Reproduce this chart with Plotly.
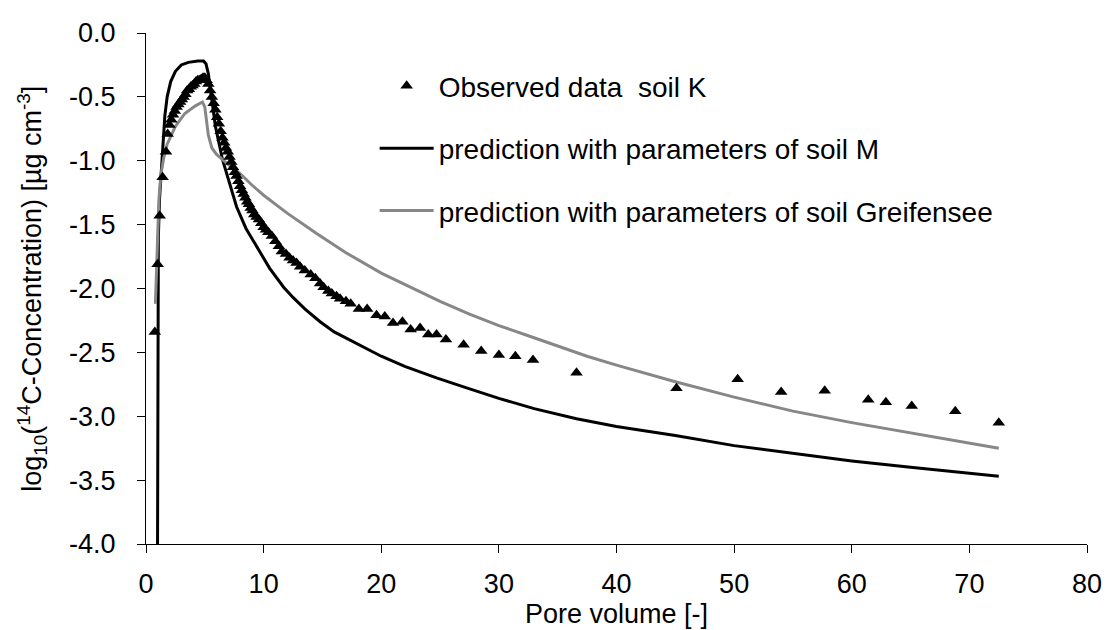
import plotly.graph_objects as go

# Observed data soil K (pore volume, log10 concentration)
obs_x = [0.75, 0.99, 1.16, 1.41, 1.70, 1.84, 2.0, 2.15, 2.3, 2.45, 2.6, 2.75, 2.9, 3.05, 3.2,
         3.35, 3.5, 3.65, 3.8, 3.95, 4.1, 4.25, 4.4, 4.55, 4.7, 4.85, 5.0, 5.15, 5.3, 5.45,
         5.6, 5.75, 5.9, 6.05, 6.2, 6.35, 6.5, 6.65, 6.8, 6.95, 7.1, 7.25, 7.4, 7.55, 7.7,
         7.85, 8.0, 8.15, 8.3, 8.45, 8.6, 8.75, 8.9, 9.05, 9.2, 9.4, 9.6, 9.8, 10.0, 10.2,
         10.4, 10.7, 11.0, 11.3, 11.55, 11.9, 12.2, 12.5, 12.8, 13.1, 13.5, 14.0, 14.4, 14.8,
         15.1, 15.5, 15.8, 16.2, 16.5, 17.0, 17.4, 18.1, 18.8, 19.6, 20.3, 21.0, 21.8, 22.5,
         23.3, 24.0, 24.7, 25.5, 27.0, 28.5, 30.0, 31.4, 32.9, 36.6, 45.1, 50.3, 54.0, 57.7,
         61.4, 62.9, 65.1, 68.8, 72.5]
obs_y = [-2.34, -1.81, -1.43, -1.13, -0.93, -0.79, -0.72, -0.68, -0.64, -0.61, -0.58, -0.56, -0.54, -0.52, -0.50,
         -0.48, -0.45, -0.44, -0.42, -0.41, -0.40, -0.38, -0.37, -0.37, -0.36, -0.35, -0.35, -0.37, -0.40, -0.45,
         -0.50, -0.55, -0.60, -0.66, -0.71, -0.77, -0.82, -0.86, -0.90, -0.93, -0.97, -1.01, -1.05, -1.09, -1.12,
         -1.16, -1.20, -1.23, -1.26, -1.29, -1.32, -1.34, -1.37, -1.39, -1.42, -1.44, -1.46, -1.49, -1.52, -1.54,
         -1.56, -1.59, -1.63, -1.67, -1.71, -1.73, -1.76, -1.78, -1.80, -1.83, -1.86, -1.89, -1.92, -1.96,
         -1.99, -2.02, -2.04, -2.06, -2.08, -2.10, -2.12, -2.16, -2.16, -2.21, -2.22, -2.27, -2.26, -2.32,
         -2.31, -2.36, -2.36, -2.40, -2.44, -2.49, -2.52, -2.53, -2.56, -2.66, -2.78, -2.71, -2.81, -2.80,
         -2.87, -2.89, -2.92, -2.96, -3.05]

# Prediction with parameters of soil M
m_x = [0.98, 0.99, 1.0, 1.05, 1.15, 1.3, 1.45, 1.6, 1.8, 2.1, 2.5, 3.0, 3.6, 4.4, 4.9, 5.1, 5.3,
       5.5, 5.9, 6.5, 7.2, 7.7, 8.5, 9.5, 10.5, 11.7, 12.5, 13.5, 14.8, 16.0, 18.5, 20.0, 22.0,
       24.7, 27.0, 30.0, 33.0, 36.6, 40.0, 45.0, 50.0, 55.0, 60.0, 65.0, 72.5]
m_y = [-4.05, -3.0, -2.0, -1.6, -1.3, -1.05, -0.85, -0.65, -0.50, -0.38, -0.30, -0.25, -0.23, -0.22, -0.22, -0.24, -0.32,
       -0.47, -0.73, -0.99, -1.20, -1.36, -1.53, -1.69, -1.84, -1.99, -2.07, -2.16, -2.26, -2.34, -2.46, -2.53, -2.61,
       -2.70, -2.77, -2.86, -2.94, -3.02, -3.08, -3.15, -3.23, -3.29, -3.35, -3.40, -3.47]

# Prediction with parameters of soil Greifensee
g_x = [0.8, 0.9, 1.0, 1.1, 1.25, 1.5, 1.8, 2.5, 3.3, 4.2, 4.8, 5.0, 5.3, 5.6, 6.0, 7.0, 8.0, 9.0,
       10.0, 12.0, 14.5, 17.0, 20.0, 22.5, 25.0, 27.5, 30.0, 32.5, 35.0, 37.5, 40.0, 45.0, 50.0,
       55.0, 60.0, 65.0, 70.0, 72.5]
g_y = [-2.12, -1.80, -1.50, -1.30, -1.12, -0.98, -0.87, -0.73, -0.63, -0.57, -0.54, -0.58, -0.80, -0.90, -0.95, -1.03, -1.10, -1.19,
       -1.27, -1.41, -1.57, -1.72, -1.88, -1.99, -2.10, -2.20, -2.29, -2.37, -2.45, -2.53, -2.60, -2.73, -2.85,
       -2.96, -3.05, -3.13, -3.21, -3.25]

y_tickvals = [0.0, -0.5, -1.0, -1.5, -2.0, -2.5, -3.0, -3.5, -4.0]
y_ticktext = ["0.0", "-0.5", "-1.0", "-1.5", "-2.0", "-2.5", "-3.0", "-3.5", "-4.0"]
x_tickvals = [0, 10, 20, 30, 40, 50, 60, 70, 80]

x_title = "Pore volume [-]"
y_title = "log<sub>10</sub>(<sup>14</sup>C-Concentration) [µg cm<sup>-3</sup>]"

FONT = "Liberation Sans, Arial, sans-serif"
FS = 27
LFS = 28

fig = go.Figure()
fig.add_trace(go.Scatter(x=m_x, y=m_y, mode="lines", name="prediction with parameters of soil M",
                         line=dict(color="black", width=3), legendgroup="b", legendrank=2))
fig.add_trace(go.Scatter(x=g_x, y=g_y, mode="lines", name="prediction with parameters of soil Greifensee",
                         line=dict(color="#878787", width=3), legendgroup="c", legendrank=3))
fig.add_trace(go.Scatter(x=obs_x, y=obs_y, mode="markers", name="Observed data  soil K",
                         marker=dict(symbol="triangle-up", size=11, color="black"),
                         legendgroup="a", legendrank=1))

fig.update_layout(
    width=1109, height=630,
    margin=dict(l=146, r=22, t=33, b=86),
    paper_bgcolor="white", plot_bgcolor="white",
    font=dict(family=FONT, size=FS, color="black"),
    showlegend=True,
    legend=dict(x=0.243, y=0.945, xanchor="left", yanchor="top", bgcolor="rgba(0,0,0,0)",
                font=dict(size=LFS), tracegroupgap=23, itemwidth=54),
    xaxis=dict(range=[0, 80], tickvals=x_tickvals, ticks="outside", ticklen=8, tickcolor="black",
               showline=True, linecolor="black", linewidth=1, showgrid=False, zeroline=False,
               ticklabelstandoff=8, tickfont=dict(size=FS), automargin=False),
    yaxis=dict(range=[-4, 0], tickvals=y_tickvals, ticktext=y_ticktext, ticks="outside", ticklen=8,
               tickcolor="black", showline=True, linecolor="black", linewidth=1, showgrid=False,
               zeroline=False, ticklabelstandoff=16, tickfont=dict(size=FS), automargin=False),
    annotations=[
        dict(text=x_title, xref="paper", yref="paper", x=0.5, y=-0.137, xanchor="center",
             yanchor="middle", showarrow=False, font=dict(size=FS)),
        dict(text=y_title, xref="paper", yref="paper", x=-0.122, y=0.5, xanchor="center",
             yanchor="middle", textangle=-90, showarrow=False, font=dict(size=FS)),
    ],
)

fig.write_html("out.html")
